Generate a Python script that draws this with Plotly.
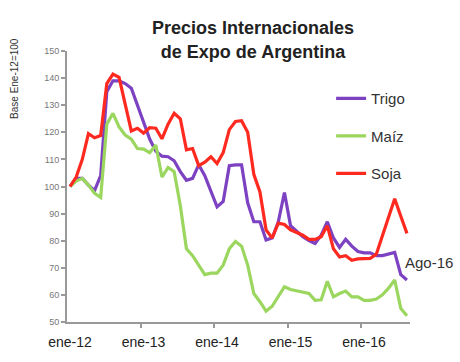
import plotly.graph_objects as go

# Monthly index: 0 = ene-12 ... 55 = ago-16
months = list(range(56))

trigo = [100, 103, 103, 100.5, 98.5, 104, 135, 139, 139, 138, 136.3, 130, 124.5, 117.5,
         113, 111.2, 111, 109.5, 105.5, 102.3, 103, 108, 104, 98.5, 92.5, 94.5, 107.7, 108,
         108, 94, 87, 87, 80.3, 81, 87, 97.8, 85.5, 83.5, 81.5, 80, 79, 82, 87, 81,
         77.5, 80.5, 78, 76, 75.5, 75.5, 74.5, 74.5, 75, 75.7, 67.5, 65.5]

maiz = [100, 102, 103, 100.5, 97.5, 96, 123, 127, 122, 119, 117.5, 114, 113.8, 112.5,
        115.3, 103.5, 107, 105.5, 93, 77, 74.5, 71, 67.5, 68, 68, 71, 77, 79.7,
        78, 71, 60.5, 57.5, 54, 55.8, 59.5, 63, 62, 61.5, 61, 60.5, 58, 58.2, 65, 59.3,
        60.5, 61.4, 59.3, 59.3, 58, 58, 58.5, 60, 62.5, 65.5, 55, 52.3]

soja = [100, 103.5, 110, 119.5, 118, 118.8, 138, 141.5, 140.3, 130, 120.5, 121.5, 119.7, 121.7,
        121.5, 117.6, 123, 127, 125, 113.5, 114, 107.7, 109, 111, 108.5, 112.5, 121, 124,
        124.3, 120, 104.5, 98, 84, 81, 86.5, 86, 84, 83, 82, 80.5, 80.5, 81.5, 85.5, 77,
        74, 74.5, 72.8, 73.3, 73.5, 73.5, 75, 82, 89, 95.5, 89, 82.7]

tick_pos = [0, 12, 24, 36, 48]
tick_labels = ["ene-12", "ene-13", "ene-14", "ene-15", "ene-16"]
boundary_ticks = [11.5, 23.5, 35.5, 47.5]

series = [("Trigo", trigo, "#7d42c2"), ("Maíz", maiz, "#9bd65f"), ("Soja", soja, "#ff2a1f")]

fig = go.Figure()
for name, vals, col in series:
    fig.add_trace(go.Scatter(x=months, y=vals, mode="lines", name=name, legendgroup=name,
                             line=dict(color=col, width=3.2)))

font_family = "Liberation Sans, Arial, sans-serif"

fig.update_layout(
    width=460, height=362,
    margin=dict(l=67, r=50, t=51, b=26),
    paper_bgcolor="white", plot_bgcolor="white",
    font=dict(family=font_family),
    title=dict(text="<b>Precios Internacionales<br>de Expo de Argentina</b>",
               x=0.55, xanchor="center", xref="container",
               y=0.905, yanchor="middle", yref="container",
               font=dict(size=18, color="#222", family=font_family)),
    showlegend=True,
    legend=dict(x=0.77, xanchor="left", y=0.885, yanchor="top",
                font=dict(size=15, color="#333"), tracegroupgap=15,
                bgcolor="rgba(0,0,0,0)"),
    xaxis=dict(range=[-0.5, 55.5], tickmode="array", tickvals=tick_pos, ticktext=tick_labels,
               ticks="", showgrid=False, zeroline=False, showline=True, linecolor="#999",
               linewidth=2, tickfont=dict(size=14, color="#222"), ticklabelstandoff=6,
               minor=dict(tickmode="array", tickvals=boundary_ticks, ticks="outside",
                          ticklen=4, tickwidth=1.5, tickcolor="#999", showgrid=False)),
    yaxis=dict(range=[50, 150], dtick=10, ticks="outside", ticklen=4, tickwidth=1.5,
               tickcolor="#999", showgrid=False, zeroline=False, showline=True,
               linecolor="#999", linewidth=2, tickfont=dict(size=9, color="#777")),
)

fig.add_annotation(text="Base Ene-12=100", textangle=-90, xref="paper", yref="paper",
                   x=-0.155, y=0.9, xanchor="center", yanchor="middle", showarrow=False,
                   font=dict(size=10, color="#333"))
fig.add_annotation(text="Ago-16", xref="paper", yref="paper", x=0.98, y=0.22,
                   xanchor="left", yanchor="middle", showarrow=False,
                   font=dict(size=15, color="#333"))

fig.write_html("out.html")
